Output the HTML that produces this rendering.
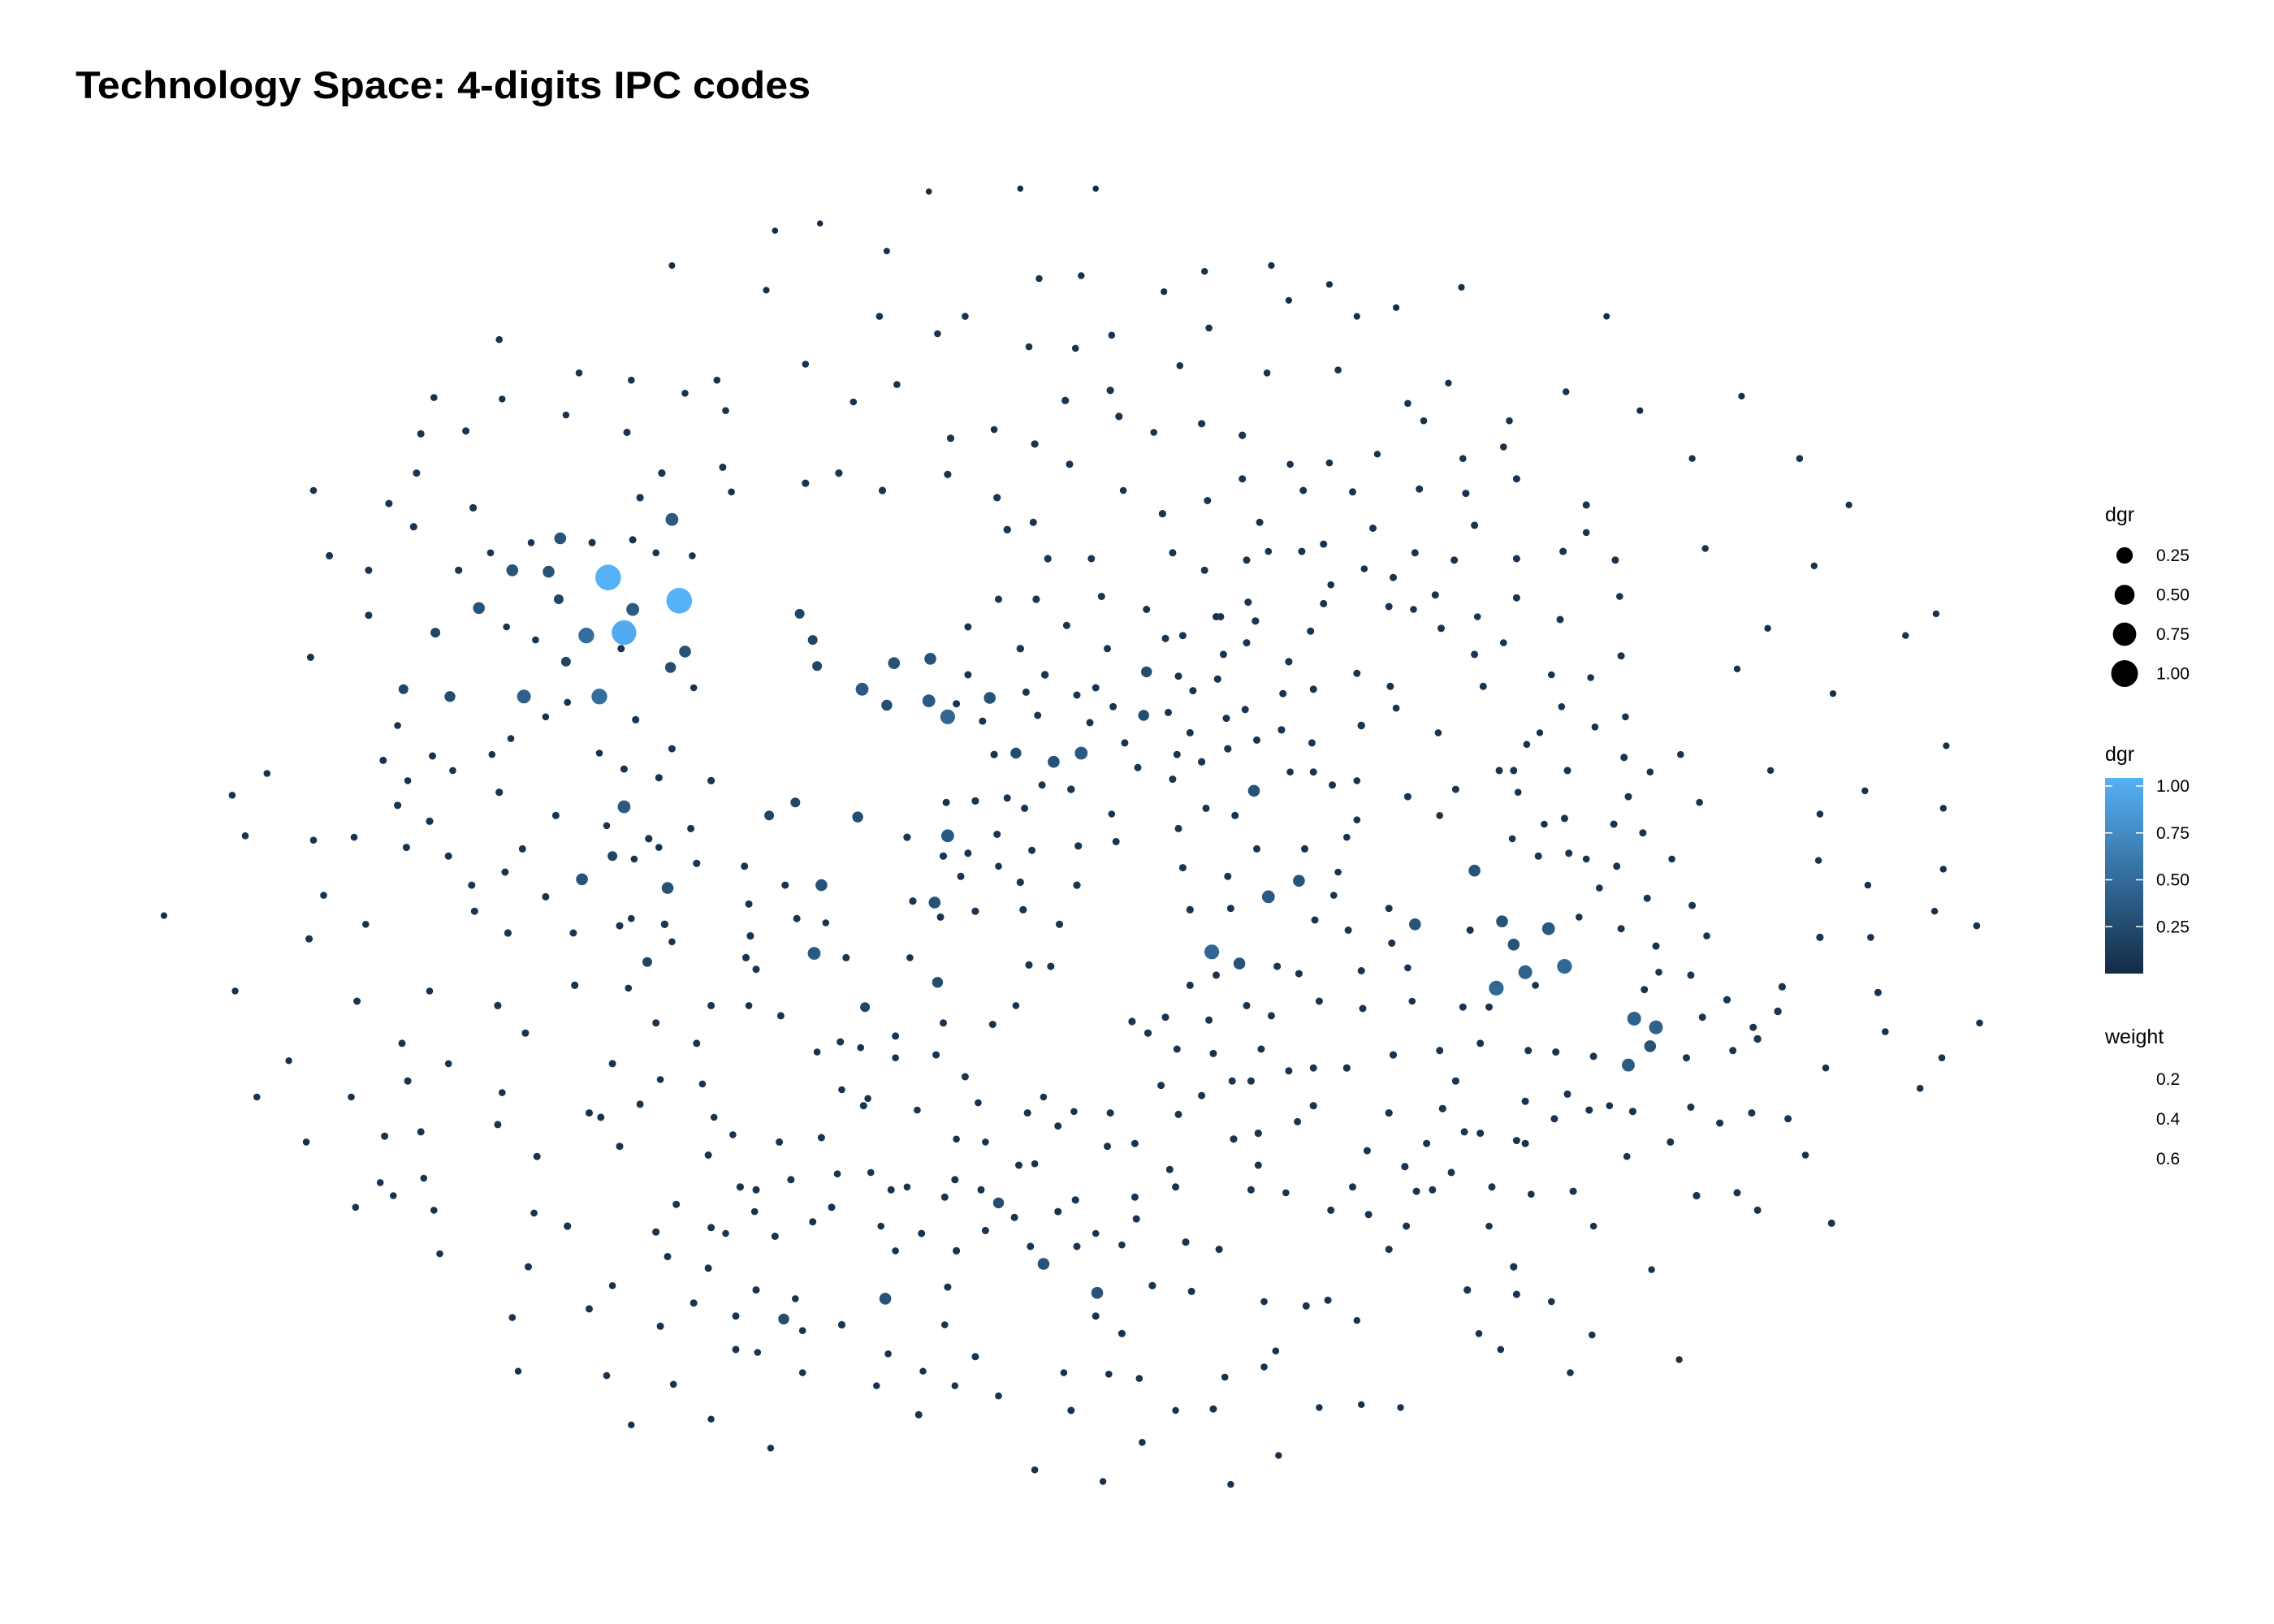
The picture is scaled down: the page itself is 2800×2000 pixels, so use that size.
<!DOCTYPE html>
<html><head><meta charset="utf-8"><style>
html,body{margin:0;padding:0;background:#fff;}
svg{display:block;font-family:"Liberation Sans",Arial,sans-serif;}
</style></head><body>
<svg id="chart" width="2800" height="2000" viewBox="0 0 2800 2000" xmlns="http://www.w3.org/2000/svg">
<defs><linearGradient id="cbar" x1="0" y1="1" x2="0" y2="0"><stop offset="0" stop-color="#132B43"/><stop offset="1" stop-color="#56B1F7"/></linearGradient></defs>
<rect width="2800" height="2000" fill="#fff"/>
<text x="93" y="121" font-size="47" font-weight="bold" textLength="905" lengthAdjust="spacingAndGlyphs">Technology Space: 4-digits IPC codes</text>
<g id="nodes"></g>
<g>
<text x="2592" y="642" font-size="25">dgr</text>
<g id="sizeLegend"></g>
</g>
<g>
<text x="2592" y="937" font-size="25">dgr</text>
<rect x="2592" y="958" width="47" height="241" fill="url(#cbar)"/>
<g id="colorLegend"></g>
</g>
<g>
<text x="2592" y="1285" font-size="25">weight</text>
<g id="weightLegend"></g>
</g>
</svg>
<script>
// node data in reference-display units: [x, y, dgr]
const nodeData = [
[640,132,0.02],[703,130,0.02],[755,130,0.02],[534,159,0.02],[565,154,0.02],[611,173,0.03],[463,183,0.03],[528,200,0.04],[716,192,0.05],[745,190,0.05],[802,201,0.04],[830,187,0.05],[876,183,0.04],[916,196,0.04],[888,207,0.04],[935,218,0.04],[962,212,0.04],[1007,198,0.04],[1107,218,0.03],
[606,218,0.06],[646,230,0.06],[665,218,0.06],[709,239,0.06],[741,240,0.06],[766,231,0.06],[833,226,0.06],[344,234,0.06],[555,251,0.06],[813,252,0.06],[873,257,0.06],[922,255,0.06],[970,278,0.06],[998,264,0.05],[1079,270,0.05],[1130,283,0.04],[1200,273,0.04],[1040,290,0.06],[399,257,0.06],[435,262,0.06],[494,262,0.06],[472,271,0.06],[346,275,0.05],[299,274,0.06],[390,286,0.05],[500,283,0.06],[588,277,0.06],[618,265,0.06],[655,302,0.08],[685,296,0.06],[713,306,0.08],[734,276,0.08],[765,269,0.08],[771,287,0.08],[795,298,0.06],[828,292,0.08],[856,300,0.08],[889,320,0.06],[916,319,0.06],[949,313,0.05],[981,290,0.06],[1008,316,0.06],[1036,308,0.06],[1166,316,0.05],[1240,316,0.06],[1274,348,0.04],
[290,299,0.07],[321,297,0.07],[432,298,0.07],[287,326,0.07],[216,338,0.06],[268,347,0.07],[326,350,0.08],[285,363,0.08],[456,326,0.08],[441,343,0.08],[498,322,0.07],[504,339,0.06],[555,333,0.08],[578,326,0.08],[608,338,0.08],[653,327,0.08],[687,343,0.08],[737,320,0.07],[774,338,0.06],[801,354,0.08],[832,345,0.07],[856,330,0.07],[898,338,0.07],[932,339,0.07],[978,337,0.07],[1010,340,0.07],[1045,330,0.07],[1093,348,0.07],[1175,378,0.05],[1250,390,0.05],[1218,433,0.05],[1313,438,0.05],[1334,423,0.05],[1263,478,0.04],[1197,461,0.05],[1220,531,0.05],[1341,514,0.04],[1285,545,0.05],[1254,561,0.06],[1339,557,0.05],[1253,593,0.05],[1287,610,0.05],[1339,599,0.05],[1333,628,0.05],[1362,638,0.06],[1289,646,0.06],[1254,646,0.08],[1294,684,0.07],[1364,705,0.06],[1299,711,0.06],[1338,729,0.06],[1323,750,0.06],[1258,736,0.06],[1228,680,0.08],[1225,697,0.09],[1211,716,0.09],[1194,724,0.07],[1232,771,0.07],[1244,796,0.06],[1262,843,0.07],[1211,834,0.07],[1207,767,0.07],[1185,774,0.07],[1197,822,0.07],[1169,824,0.08],[1151,787,0.07],[1138,875,0.05],[1157,937,0.05],[1097,920,0.06],[1082,946,0.06],[1069,897,0.06],[1043,873,0.08],[1045,892,0.07],[1011,889,0.08],[1019,919,0.06],[1034,930,0.06],[965,970,0.05],[938,968,0.05],[909,970,0.05],[935,910,0.05],[915,896,0.07],[900,900,0.07],[881,1003,0.05],[848,1023,0.05],[836,971,0.07],[871,942,0.06],[879,931,0.06],[871,897,0.06],[844,949,0.06],[810,972,0.05],[785,950,0.06],[787,994,0.06],[760,1021,0.05],[713,1013,0.06],[738,972,0.07],[733,946,0.06],[764,947,0.06],[755,907,0.07],[773,919,0.08],[757,890,0.08],[794,886,0.08],[821,890,0.07],[817,856,0.08],[840,861,0.07],[742,859,0.07],[718,871,0.07],[741,827,0.08],[729,835,0.07],[710,859,0.07],[688,962,0.06],[658,955,0.05],[633,975,0.07],[604,955,0.05],[636,945,0.05],[612,933,0.06],[672,935,0.07],[651,913,0.06],[653,887,0.07],[609,895,0.06],[580,913,0.08],[553,946,0.06],[531,998,0.05],[490,978,0.05],[435,982,0.05],[464,954,0.06],[418,948,0.06],[357,945,0.05],[455,914,0.07],[478,898,0.07],[507,907,0.07],[521,889,0.07],[507,930,0.07],[540,910,0.08],[553,917,0.06],[548,895,0.06],[522,932,0.06],[488,874,0.07],[460,866,0.07],[422,886,0.06],[406,902,0.07],[353,908,0.06],[364,873,0.07],[303,864,0.06],[299,834,0.06],[271,824,0.06],[245,832,0.06],[262,815,0.06],[292,812,0.06],[265,783,0.07],[290,780,0.07],[211,787,0.06],[242,756,0.06],[281,745,0.07],[309,733,0.06],[277,719,0.07],[246,690,0.07],[296,683,0.06],[213,647,0.07],[223,617,0.06],[252,637,0.06],[160,548,0.06],[184,533,0.06],[169,576,0.06],[216,579,0.06],[244,577,0.06],[113,631,0.04],[162,683,0.05],[199,731,0.05],[177,756,0.06],[214,453,0.07],[227,383,0.07],[254,393,0.07],[254,424,0.07],[274,500,0.06],[264,524,0.07],[298,521,0.07],[281,538,0.06],[274,555,0.08],[312,531,0.06],[280,584,0.07],[296,566,0.08],[309,590,0.07],[325,610,0.07],[327,628,0.07],[350,643,0.08],[348,601,0.07],[360,585,0.07],[344,546,0.08],[339,520,0.06],[352,509,0.06],[376,494,0.06],[391,484,0.06],[369,441,0.06],[349,432,0.06],[316,393,0.08],[338,381,0.06],[366,374,0.06],[408,374,0.07],[428,447,0.07],[436,372,0.07],[452,381,0.06],[477,383,0.06],[478,474,0.06],[438,496,0.08],[463,516,0.07],[430,530,0.07],[454,536,0.07],[490,538,0.08],[447,578,0.08],[437,592,0.06],[427,638,0.07],[435,633,0.06],[458,637,0.09],[454,584,0.06],[476,571,0.07],[480,595,0.08],[463,649,0.06],[433,681,0.06],[396,679,0.08],[395,643,0.07],[376,618,0.07],[383,562,0.07],[418,569,0.06],[413,519,0.06],[343,693,0.08],[362,712,0.07],[346,753,0.06],[343,775,0.07],[370,797,0.07],[368,836,0.06],[391,845,0.08],[406,767,0.07],[441,761,0.07],[455,744,0.06],[422,733,0.07],[427,790,0.07],[414,770,0.07],[452,705,0.07],[490,693,0.07],[480,719,0.07],[484,747,0.06],[492,770,0.06],[505,782,0.06],[488,796,0.07],[510,818,0.08],[521,820,0.07],[520,835,0.06],[537,787,0.07],[545,813,0.07],[534,852,0.07],[500,850,0.06],[490,846,0.07],[466,830,0.07],[452,849,0.08],[521,668,0.07],[538,700,0.07],[516,693,0.06],[514,660,0.08],[517,645,0.08],[516,623,0.07],[513,597,0.07],[541,610,0.07],[549,633,0.07],[569,636,0.06],[583,660,0.07],[627,660,0.06],[593,722,0.06],[563,725,0.06],[579,718,0.07],[598,757,0.06],[595,762,0.07],[580,751,0.06],[573,832,0.07],[577,809,0.06],[560,842,0.07],[566,784,0.07],[617,729,0.06],[600,808,0.06],[625,818,0.06],[614,820,0.07],[635,850,0.07],[617,862,0.06],[607,845,0.06],[651,825,0.07],[658,813,0.07],[659,862,0.08],[679,848,0.07],[699,839,0.07],[702,803,0.07],[713,802,0.06],[729,776,0.07],[708,767,0.07],[719,756,0.06],[740,766,0.06],[765,767,0.07],[763,790,0.07],[782,788,0.07],[806,806,0.07],[810,818,0.07],[782,825,0.07],[783,840,0.07],[773,858,0.06],[755,850,0.06],[676,820,0.07],[679,787,0.06],[659,785,0.06],[674,760,0.06],[665,742,0.07],[645,727,0.07],[632,765,0.06],[617,714,0.07],[650,705,0.07],[684,706,0.07],[700,693,0.06],[709,665,0.08],[724,666,0.07],[672,628,0.08],[648,632,0.07],[662,604,0.07],[667,588,0.07],[650,590,0.08],[625,577,0.08],[629,621,0.08],[652,553,0.07],[672,552,0.08],[694,550,0.07],[687,575,0.07],[688,597,0.06],[703,608,0.08],[711,586,0.07],[705,627,0.08],[730,637,0.08],[742,610,0.08],[743,583,0.08],[769,580,0.07],[766,561,0.06],[738,544,0.09],[718,541,0.07],[706,557,0.07],[685,520,0.08],[677,497,0.07],[703,447,0.09],[707,477,0.07],[720,465,0.09],[735,431,0.07],[742,479,0.07],[715,493,0.07],[667,465,0.07],[667,432,0.07],[659,485,0.07],[688,413,0.07],[714,413,0.08],[722,385,0.08],[712,360,0.07],[694,365,0.09],[752,385,0.07],[759,411,0.07],[790,420,0.07],[808,381,0.07],[830,393,0.07],[815,438,0.07],[841,425,0.07],[822,476,0.07],[839,468,0.08],[845,495,0.07],[860,415,0.07],[859,443,0.07],[865,428,0.08],[874,380,0.06],[868,360,0.07],[912,375,0.07],[940,392,0.06],[946,364,0.07],[975,381,0.07],[974,420,0.06],[989,410,0.07],[1002,386,0.07],[1016,362,0.07],[1045,385,0.07],[1077,380,0.07],[1093,367,0.06],[1113,386,0.07],[1116,411,0.06],[1045,412,0.07],[1075,427,0.07],[1018,425,0.06],[993,433,0.07],[957,418,0.07],[960,398,0.07],[912,416,0.07],[903,435,0.07],[888,456,0.08],[905,475,0.07],[935,464,0.07],[958,473,0.07],[938,500,0.09],[904,512,0.07],[883,503,0.08],[884,478,0.07],[866,510,0.07],[858,489,0.07],[805,491,0.07],[820,505,0.07],[811,520,0.07],[784,529,0.07],[775,512,0.07],[767,487,0.07],[763,447,0.07],[812,466,0.07],[838,425,0.07],[843,451,0.07],[897,380,0.07],[859,386,0.07],[917,403,0.06],[803,440,0.07],[755,474,0.07],[751,498,0.07],[808,537,0.07],[828,525,0.08],[846,516,0.08],[889,532,0.06],[905,532,0.07],[918,541,0.07],[962,488,0.06],[991,505,0.06],[1022,473,0.07],[1016,451,0.07],[1036,443,0.06],[1069,465,0.06],[1096,467,0.06],[1076,487,0.06],[1117,452,0.07],[1120,494,0.06],[1099,501,0.06],[1061,505,0.05],[1052,513,0.06],[1043,531,0.07],[1080,531,0.07],[1119,522,0.07],[1122,549,0.07],[1137,532,0.06],[1158,520,0.06],[1171,553,0.06],[1112,568,0.07],[1132,574,0.07],[1152,592,0.06],[1166,624,0.07],[1176,645,0.06],[1135,619,0.07],[1114,597,0.07],[1102,612,0.06],[1093,592,0.06],[1081,588,0.07],[1060,590,0.07],[1042,578,0.06],[1064,568,0.06],[1078,564,0.07],[1046,546,0.06],[1033,531,0.07],[1003,544,0.07],[992,562,0.06],[970,549,0.07],[935,538,0.06],[935,565,0.06],[928,577,0.06],[919,617,0.06],[922,601,0.06],[899,585,0.07],[866,585,0.07],[851,562,0.07],[831,557,0.07],[812,571,0.07],[815,598,0.07],[820,627,0.08],[846,604,0.07],[848,626,0.07],[906,634,0.07],[929,641,0.07],[957,626,0.07],[959,650,0.07],[970,667,0.06],[938,669,0.07],[909,690,0.07],[895,671,0.07],[880,666,0.07],[859,693,0.07],[838,672,0.07],[820,679,0.07],[833,703,0.07],[803,701,0.07],[780,704,0.08],[791,712,0.08],[811,723,0.07],[800,748,0.07],[812,768,0.07],[828,755,0.07],[836,726,0.07],[849,745,0.07],[862,745,0.07],[869,723,0.07],[876,700,0.07],[888,738,0.07],[905,736,0.07],[928,736,0.08],[905,762,0.08],[894,773,0.07],[867,781,0.08],[850,785,0.08],[862,820,0.07],[867,803,0.07],[886,822,0.06],[917,834,0.07],[932,818,0.07],[942,793,0.07],[943,837,0.07],[957,861,0.07],[969,845,0.07],[976,821,0.07],[987,820,0.07],[1000,808,0.07],[1020,781,0.07],[1045,786,0.07],[1051,759,0.07],[1071,771,0.07],[1080,754,0.07],[1095,765,0.07],[1109,762,0.06],[1125,766,0.08],[1072,725,0.07],[1098,728,0.07],[1053,724,0.07],[1058,679,0.06],[1026,694,0.07],[1020,719,0.07],[1003,745,0.08],[983,788,0.07],[968,804,0.08],[939,695,0.07],[960,727,0.08],[994,764,0.08],[957,767,0.08],[992,724,0.07],[973,690,0.06],[1008,694,0.07],[1013,641,0.07],[1088,632,0.06],[1117,640,0.07],[1141,652,0.07],[1143,670,0.06],[1133,682,0.07],[1165,672,0.07],[1162,729,0.07],[1190,689,0.08],[1208,708,0.07],[1173,701,0.07],[1165,763,0.07],[1121,797,0.06],[1098,845,0.06],[1084,821,0.07],[1055,823,0.06],[1051,788,0.07],[1028,818,0.07],[1026,845,0.06],[1009,780,0.07],
[419,398,1.0],[468,414,1.0],[430,436,0.95],[404,438,0.5],[436,420,0.35],[463,358,0.35],[386,371,0.3],[378,394,0.3],[353,393,0.3],[330,419,0.3],[472,449,0.3],[462,460,0.25],[413,480,0.5],[361,480,0.4],[430,556,0.35],[460,612,0.3],[401,606,0.3],[594,475,0.35],[616,457,0.3],[641,454,0.3],[640,483,0.35],[653,494,0.45],[611,486,0.25],[551,423,0.2],[560,441,0.2],[563,459,0.2],[682,481,0.3],[726,525,0.3],[745,519,0.35],[700,519,0.25],[790,463,0.25],[788,493,0.25],[653,576,0.35],[644,622,0.3],[591,563,0.25],[566,610,0.3],[561,657,0.35],[646,677,0.25],[835,656,0.45],[854,664,0.3],[874,618,0.35],[895,607,0.3],[864,545,0.3],[1031,681,0.45],[1051,670,0.4],[1078,666,0.45],[1067,640,0.35],[1043,651,0.3],[1035,635,0.3],[1126,702,0.4],[1141,708,0.4],[1137,721,0.3],[1122,734,0.35],[1016,600,0.3],[975,637,0.3],[610,895,0.3],[719,871,0.3],[756,891,0.3],[540,909,0.25],[688,829,0.25],[596,694,0.2],[530,562,0.2],[548,553,0.2],[422,590,0.2],[446,663,0.2],[310,480,0.25],[278,475,0.2],[300,436,0.2],[385,413,0.2],[390,456,0.2]
];
const nodeX = nodeData.map(n => n[0]);
const nodeY = nodeData.map(n => n[1]);
const nodeDgr = nodeData.map(n => n[2]);
const sizeLegendValues = [0.25, 0.50, 0.75, 1.00];
const sizeLegendLabels = ["0.25", "0.50", "0.75", "1.00"];
const colorTickValues = [1.00, 0.75, 0.50, 0.25];
const colorTickLabels = ["1.00", "0.75", "0.50", "0.25"];
const weightLabels = ["0.2", "0.4", "0.6"];

const K = 1.787;
function xScale(v) { return v * K; }
function yScale(v) { return v * K; }
function rScale(d) { return 3.6 + 12.2 * d; }
function legendR(d) { return 8 + 8.5 * d; }
function colorScale(d) {
  const a = [0x13, 0x2B, 0x43], b = [0x56, 0xB1, 0xF7];
  const t = Math.max(0, Math.min(1, d));
  return 'rgb(' + a.map((c, i) => Math.round(c + (b[i] - c) * t)).join(',') + ')';
}
function cbarY(v) { return 1199 - (v / 1.0) * 231; }
const NS = 'http://www.w3.org/2000/svg';

const g = document.getElementById('nodes');
const order = nodeDgr.map((d, i) => i).sort((a, b) => nodeDgr[a] - nodeDgr[b]);
order.forEach(i => {
  const c = document.createElementNS(NS, 'circle');
  
  
  c.setAttribute('cx', xScale(nodeX[i]).toFixed(1));
  c.setAttribute('cy', yScale(nodeY[i]).toFixed(1));
  c.setAttribute('r', rScale(nodeDgr[i]).toFixed(1));
  c.setAttribute('fill', colorScale(nodeDgr[i]));
  g.appendChild(c);
});

const sl = document.getElementById('sizeLegend');
sizeLegendValues.forEach((v, i) => {
  const y = 684 + i * 48.5;
  const c = document.createElementNS(NS, 'circle');
  
  
  c.setAttribute('cx', 2616); c.setAttribute('cy', y);
  c.setAttribute('r', legendR(v).toFixed(1));
  c.setAttribute('fill', '#000');
  sl.appendChild(c);
  const t = document.createElementNS(NS, 'text');
  
  
  t.setAttribute('x', 2655); t.setAttribute('y', y + 7);
  t.setAttribute('font-size', '21');
  t.textContent = sizeLegendLabels[i];
  sl.appendChild(t);
});

const cl = document.getElementById('colorLegend');
colorTickValues.forEach((v, i) => {
  const y = cbarY(v);
  [[2592, 2601], [2630, 2639]].forEach(p => {
    const l = document.createElementNS(NS, 'line');
    
    
    l.setAttribute('x1', p[0]); l.setAttribute('x2', p[1]);
    l.setAttribute('y1', y); l.setAttribute('y2', y);
    l.setAttribute('stroke', '#fff'); l.setAttribute('stroke-width', '1.5');
    cl.appendChild(l);
  });
  const t = document.createElementNS(NS, 'text');
  
  
  t.setAttribute('x', 2655); t.setAttribute('y', y + 7);
  t.setAttribute('font-size', '21');
  t.textContent = colorTickLabels[i];
  cl.appendChild(t);
});

const wl = document.getElementById('weightLegend');
weightLabels.forEach((s, i) => {
  const t = document.createElementNS(NS, 'text');
  
  
  t.setAttribute('x', 2655); t.setAttribute('y', 1336 + i * 49);
  t.setAttribute('font-size', '21');
  t.textContent = s;
  wl.appendChild(t);
});
</script>
</body></html>
